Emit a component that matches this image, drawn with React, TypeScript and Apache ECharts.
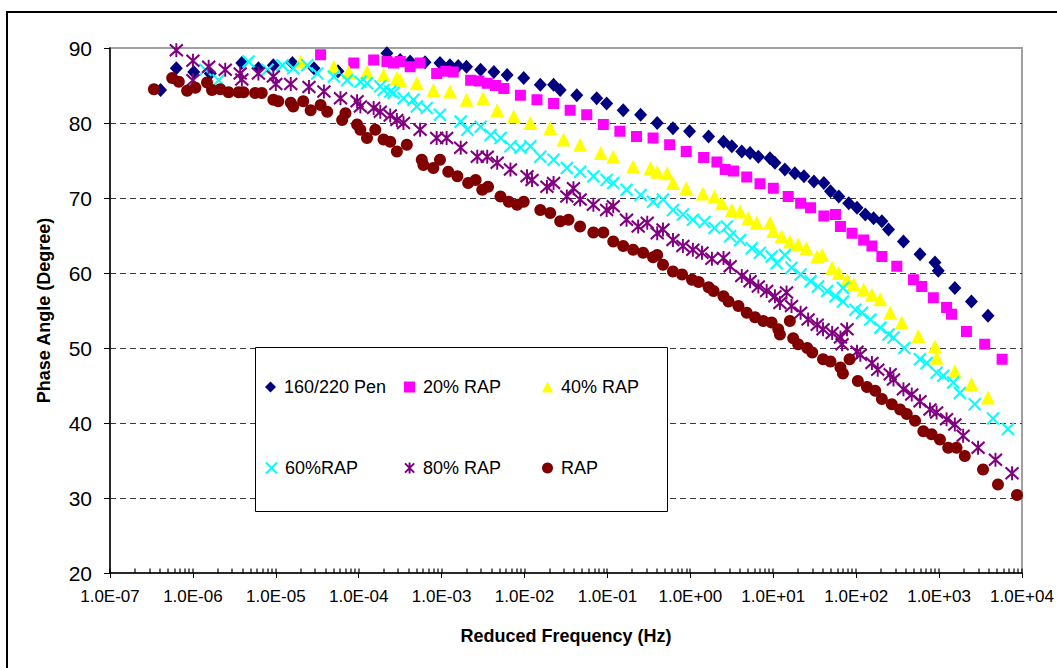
import React, { useEffect, useRef } from "react";
import * as echarts from "echarts";

// Each pair is [log10 of reduced frequency (Hz), phase angle (degree)].
const pen160: number[][] = [
  [-6.39, 84.4], [-6.2, 87.3], [-5.99, 86.8], [-5.79, 86.6], [-5.41, 88.0], [-5.21, 87.3],
  [-5.03, 87.7], [-4.8, 88.0], [-4.54, 87.3], [-4.25, 86.9], [-3.66, 89.3], [-3.5, 88.4],
  [-3.38, 88.2], [-3.2, 88.1], [-3.02, 88.0], [-2.9, 87.7], [-2.8, 87.6], [-2.7, 87.5],
  [-2.53, 87.1], [-2.37, 86.8], [-2.21, 86.4], [-2.01, 86.0], [-1.81, 85.1], [-1.65, 85.1],
  [-1.57, 84.4], [-1.37, 83.7], [-1.13, 83.3], [-1.01, 82.6], [-0.81, 81.7], [-0.6, 81.1],
  [-0.4, 80.0], [-0.21, 79.3], [-0.01, 78.9], [0.22, 78.2], [0.4, 77.5], [0.5, 76.9],
  [0.62, 76.2], [0.72, 76.0], [0.82, 75.5], [0.96, 75.3], [1.02, 74.7], [1.14, 73.8],
  [1.26, 73.3], [1.37, 72.9], [1.49, 72.2], [1.61, 72.0], [1.69, 70.9], [1.79, 70.2],
  [1.91, 69.3], [2.01, 68.7], [2.11, 67.8], [2.21, 67.3], [2.31, 66.9], [2.39, 65.8],
  [2.57, 64.2], [2.77, 62.5], [2.95, 61.4], [2.99, 60.3], [3.19, 58.0], [3.39, 56.2],
  [3.59, 54.3],
];

const rap20: number[][] = [
  [-4.46, 89.1], [-4.06, 88.0], [-3.82, 88.4], [-3.66, 88.2], [-3.58, 88.0], [-3.5, 88.2],
  [-3.38, 87.5], [-3.26, 88.0], [-3.06, 86.6], [-2.95, 86.9], [-2.86, 86.8], [-2.65, 85.7],
  [-2.55, 85.6], [-2.45, 85.3], [-2.35, 85.0], [-2.25, 84.6], [-2.05, 83.7], [-1.85, 83.1],
  [-1.65, 82.6], [-1.45, 81.7], [-1.25, 81.1], [-1.05, 79.8], [-0.85, 78.9], [-0.65, 78.2],
  [-0.45, 78.0], [-0.25, 77.1], [-0.05, 76.2], [0.16, 75.4], [0.32, 74.8], [0.42, 73.8],
  [0.52, 73.6], [0.68, 72.8], [0.84, 71.9], [1.0, 71.3], [1.18, 70.2], [1.33, 69.3],
  [1.45, 68.7], [1.61, 67.6], [1.75, 67.8], [1.81, 66.2], [1.95, 65.3], [2.09, 64.4],
  [2.19, 63.6], [2.31, 62.2], [2.49, 60.9], [2.69, 59.1], [2.79, 58.2], [2.93, 56.7],
  [3.09, 55.4], [3.15, 54.5], [3.33, 52.2], [3.55, 50.5], [3.76, 48.5],
];

const rap40: number[][] = [
  [-4.7, 88.2], [-4.3, 87.5], [-4.12, 86.8], [-3.9, 86.8], [-3.7, 86.4], [-3.54, 86.0],
  [-3.5, 85.7], [-3.3, 85.3], [-3.1, 84.4], [-2.9, 84.2], [-2.7, 83.1], [-2.5, 83.3],
  [-2.33, 81.7], [-2.13, 80.9], [-1.93, 80.0], [-1.69, 79.3], [-1.53, 77.8], [-1.33, 77.1],
  [-1.08, 76.0], [-0.93, 75.5], [-0.69, 74.2], [-0.48, 74.0], [-0.4, 73.5], [-0.28, 73.3],
  [-0.21, 72.0], [-0.05, 71.3], [0.15, 70.6], [0.29, 70.2], [0.38, 69.3], [0.5, 68.4],
  [0.6, 68.2], [0.7, 67.3], [0.8, 66.7], [0.96, 66.7], [1.0, 65.6], [1.1, 64.9],
  [1.2, 64.2], [1.3, 63.8], [1.4, 63.3], [1.53, 62.2], [1.59, 62.4], [1.71, 60.7],
  [1.79, 60.0], [1.89, 59.1], [1.97, 58.5], [2.09, 57.8], [2.19, 57.1], [2.29, 56.5],
  [2.41, 54.7], [2.55, 53.4], [2.75, 51.6], [2.95, 50.2], [2.97, 48.7], [3.19, 46.9],
  [3.39, 45.2], [3.59, 43.4],
];

const rap60: number[][] = [
  [-5.85, 87.1], [-5.69, 85.7], [-5.33, 88.2], [-5.1, 87.1], [-4.92, 87.7], [-4.79, 87.3],
  [-4.62, 87.7], [-4.5, 86.6], [-4.3, 86.2], [-4.14, 85.7], [-3.98, 85.5], [-3.9, 85.3],
  [-3.74, 84.9], [-3.7, 84.4], [-3.62, 84.2], [-3.58, 84.0], [-3.46, 83.3], [-3.34, 83.1],
  [-3.3, 82.2], [-3.18, 82.0], [-3.02, 81.1], [-2.77, 80.2], [-2.69, 79.1], [-2.53, 79.5],
  [-2.41, 78.4], [-2.29, 78.0], [-2.17, 76.9], [-2.05, 76.7], [-1.93, 76.9], [-1.81, 75.5],
  [-1.65, 75.1], [-1.49, 74.0], [-1.33, 73.5], [-1.17, 72.9], [-1.01, 72.4], [-0.93, 72.0],
  [-0.77, 71.1], [-0.6, 70.4], [-0.45, 69.5], [-0.33, 69.8], [-0.21, 68.4], [-0.09, 67.8],
  [0.03, 67.1], [0.17, 66.8], [0.29, 66.0], [0.44, 66.2], [0.48, 64.9], [0.6, 64.4],
  [0.74, 63.3], [0.84, 62.7], [0.98, 62.2], [1.04, 61.3], [1.14, 62.4], [1.22, 60.7],
  [1.33, 59.8], [1.45, 58.9], [1.54, 58.2], [1.65, 57.6], [1.75, 56.9], [1.84, 58.0],
  [1.84, 56.2], [1.99, 55.1], [2.07, 54.7], [2.17, 53.8], [2.29, 52.7], [2.39, 51.8],
  [2.45, 51.4], [2.58, 50.0], [2.77, 48.5], [2.85, 48.0], [2.97, 46.7], [3.05, 46.3],
  [3.17, 45.4], [3.25, 44.0], [3.43, 42.5], [3.65, 40.6], [3.83, 39.2],
];

const rap80: number[][] = [
  [-6.2, 89.7], [-6.0, 88.3], [-6.0, 85.7], [-5.81, 87.5], [-5.61, 87.1], [-5.43, 86.6],
  [-5.41, 85.8], [-5.21, 86.6], [-5.03, 86.2], [-5.0, 85.2], [-4.82, 85.2], [-4.6, 84.8],
  [-4.42, 84.2], [-4.22, 83.3], [-4.02, 82.9], [-3.98, 82.2], [-3.82, 82.0], [-3.74, 81.5],
  [-3.62, 81.0], [-3.54, 80.4], [-3.46, 80.0], [-3.26, 79.1], [-3.06, 78.0], [-2.94, 78.0],
  [-2.77, 76.7], [-2.57, 75.5], [-2.45, 75.5], [-2.33, 74.7], [-2.17, 73.8], [-1.97, 72.9],
  [-1.91, 72.4], [-1.73, 71.5], [-1.65, 72.0], [-1.49, 70.2], [-1.41, 71.3], [-1.33, 69.8],
  [-1.17, 69.1], [-1.01, 68.4], [-0.93, 68.9], [-0.77, 67.1], [-0.63, 66.2], [-0.52, 66.7],
  [-0.4, 65.3], [-0.33, 65.8], [-0.21, 64.4], [-0.09, 63.6], [0.03, 63.1], [0.14, 62.7],
  [0.26, 61.9], [0.4, 62.0], [0.48, 60.9], [0.62, 59.6], [0.72, 58.9], [0.82, 58.2],
  [0.92, 57.6], [1.02, 56.9], [1.08, 56.0], [1.16, 57.4], [1.22, 55.6], [1.33, 54.7],
  [1.42, 53.8], [1.53, 53.1], [1.6, 52.5], [1.71, 52.0], [1.81, 51.4], [1.83, 50.5],
  [1.89, 52.5], [2.01, 49.5], [2.05, 49.1], [2.19, 48.0], [2.26, 47.1], [2.41, 46.5],
  [2.45, 45.8], [2.57, 44.5], [2.67, 43.8], [2.77, 42.9], [2.89, 41.8], [2.97, 41.4],
  [3.09, 40.5], [3.19, 39.8], [3.29, 38.3], [3.47, 36.7], [3.68, 35.1], [3.88, 33.3],
];

const rap100: number[][] = [
  [-6.47, 84.5], [-6.25, 86.0], [-6.17, 85.5], [-6.07, 84.3], [-5.97, 84.7], [-5.83, 85.4],
  [-5.77, 84.4], [-5.67, 84.5], [-5.57, 84.1], [-5.45, 84.1], [-5.39, 84.1], [-5.25, 84.0],
  [-5.17, 84.0], [-5.03, 83.1], [-4.97, 82.9], [-4.82, 82.7], [-4.79, 82.2], [-4.67, 82.9],
  [-4.58, 81.7], [-4.46, 82.4], [-4.38, 81.5], [-4.2, 80.4], [-4.16, 81.3], [-4.02, 79.8],
  [-3.98, 79.1], [-3.9, 78.0], [-3.8, 79.1], [-3.7, 77.8], [-3.62, 77.5], [-3.54, 76.2],
  [-3.42, 77.1], [-3.24, 75.1], [-3.22, 74.4], [-3.1, 74.0], [-3.02, 75.1], [-2.92, 73.5],
  [-2.81, 72.9], [-2.68, 72.0], [-2.59, 72.4], [-2.51, 71.1], [-2.44, 71.5], [-2.29, 70.2],
  [-2.19, 69.5], [-2.09, 69.1], [-2.01, 69.5], [-1.81, 68.4], [-1.69, 68.0], [-1.57, 66.9],
  [-1.47, 67.1], [-1.33, 66.2], [-1.17, 65.4], [-1.05, 65.4], [-0.93, 64.2], [-0.81, 63.6],
  [-0.69, 63.1], [-0.57, 62.7], [-0.45, 62.1], [-0.4, 62.4], [-0.33, 61.1], [-0.21, 60.2],
  [-0.1, 59.8], [0.02, 59.1], [0.1, 58.8], [0.22, 58.1], [0.28, 57.6], [0.4, 56.9],
  [0.46, 56.2], [0.58, 55.6], [0.68, 54.7], [0.78, 54.1], [0.88, 53.6], [0.98, 53.4],
  [1.06, 52.5], [1.08, 51.8], [1.2, 53.6], [1.24, 51.3], [1.3, 50.5], [1.41, 50.0],
  [1.47, 49.4], [1.6, 48.5], [1.69, 48.2], [1.81, 47.4], [1.84, 46.6], [1.92, 48.5],
  [2.02, 45.6], [2.13, 44.8], [2.23, 44.3], [2.31, 43.2], [2.43, 42.5], [2.53, 41.8],
  [2.61, 41.2], [2.71, 40.3], [2.81, 38.9], [2.91, 38.5], [3.01, 37.8], [3.11, 36.7],
  [3.21, 36.7], [3.31, 35.6], [3.53, 33.8], [3.71, 31.8], [3.94, 30.4],
];

const seriesNames = ["160/220 Pen", "20% RAP", "40% RAP", "60%RAP", "80% RAP", "RAP"];
const seriesColors = ["#000080", "#FF00FF", "#FFFF00", "#00FFFF", "#800080", "#800000"];

const X_MIN = 1e-7;
const X_MAX = 1e4;
const Y_MIN = 20;
const Y_MAX = 90;

const FONT = "Arial, 'Liberation Sans', Helvetica, sans-serif";

const CROSS = "path://M0,0L10,10M10,0L0,10";
const STAR = "path://M0,1L10,11M10,1L0,11M5,0L5,12";

const toPoints = (arr: number[][]) => arr.map(([lf, deg]) => [Math.pow(10, lf), deg]);

// Minor decade ticks (2..9 x 10^n) plus the decade marks, standing on the frequency axis
const minorTickValues: number[] = [];
for (let d = -7; d <= 4; d++) {
  minorTickValues.push(Math.pow(10, d));
  if (d < 4) for (let k = 2; k <= 9; k++) minorTickValues.push(k * Math.pow(10, d));
}

const fmtSci = (v: number) => {
  const e = Math.round(Math.log10(v));
  const s = e < 0 ? "-" : "+";
  return `1.0E${s}${String(Math.abs(e)).padStart(2, "0")}`;
};

const axisFont = { fontFamily: FONT, color: "#000" };

export default function App() {
  const ref = useRef<HTMLDivElement>(null);

  useEffect(() => {
    if (!ref.current) return;
    const chart = echarts.init(ref.current, undefined, { renderer: "svg" });

    const datasets = [pen160, rap20, rap40, rap60, rap80, rap100];
    const symbols: any[] = ["diamond", "rect", "triangle", CROSS, STAR, "circle"];
    const sizes: any[] = [[13, 14], 11, 14, 12, [13, 14], 12];

    const series: any[] = datasets.map((d, i) => {
      const stroked = i === 3 || i === 4;
      return {
        name: seriesNames[i],
        type: "scatter",
        data: toPoints(d),
        symbol: symbols[i],
        symbolSize: sizes[i],
        itemStyle: stroked
          ? { color: "transparent", borderColor: seriesColors[i], borderWidth: 2, opacity: 1 }
          : { color: seriesColors[i], opacity: 1 },
        emphasis: { disabled: true },
        z: 2 + i * 0.01,
      };
    });

    series.push({
      type: "custom",
      name: "axis-minor-ticks",
      silent: true,
      clip: false,
      z: 20,
      data: minorTickValues.map((v) => [v, Y_MIN]),
      renderItem: (_p: any, api: any) => {
        const pt = api.coord([api.value(0), api.value(1)]);
        return {
          type: "rect",
          shape: { x: Math.round(pt[0]) - 0.6, y: pt[1] - 4.5, width: 1.2, height: 4.5 },
          style: { fill: "#000" },
        };
      },
    });

    // Legend laid out as a 3 x 2 table of single-item legends
    const legendCols = [265, 404, 542];
    const legendRows = [378, 459];
    const legendLegends = seriesNames.map((name, i) => ({
      data: [name],
      left: legendCols[i % 3],
      top: legendRows[Math.floor(i / 3)],
      padding: 0,
      itemWidth: 11,
      itemHeight: 11,
      itemGap: 0,
      selectedMode: false,
      z: 6,
      textStyle: { ...axisFont, fontSize: 18, padding: [0, 0, 0, 3] },
    }));

    chart.setOption({
      animation: false,
      backgroundColor: "#fff",
      grid: {
        left: 110,
        right: 35,
        top: 48,
        bottom: 95,
        show: true,
        borderColor: "#a0a0a0",
        borderWidth: 2,
        backgroundColor: "transparent",
      },
      legend: legendLegends,
      xAxis: {
        type: "log",
        logBase: 10,
        min: X_MIN,
        max: X_MAX,
        interval: 1,
        name: "Reduced Frequency (Hz)",
        nameLocation: "middle",
        nameGap: 54,
        nameTextStyle: { ...axisFont, fontSize: 18, fontWeight: "bold" },
        axisLine: { show: true, onZero: false, lineStyle: { color: "#000", width: 1.5 } },
        axisTick: { show: true, inside: false, length: 5, lineStyle: { color: "#000" } },
        axisLabel: { ...axisFont, fontSize: 17, margin: 15, formatter: fmtSci },
        splitLine: { show: false },
      },
      yAxis: {
        type: "value",
        min: Y_MIN,
        max: Y_MAX,
        interval: 10,
        name: "Phase Angle (Degree)",
        nameLocation: "middle",
        nameGap: 57,
        nameTextStyle: { ...axisFont, fontSize: 18, fontWeight: "bold" },
        axisLine: { show: true, lineStyle: { color: "#000", width: 1.5 } },
        axisTick: { show: true, inside: false, length: 6, lineStyle: { color: "#000" } },
        axisLabel: { ...axisFont, fontSize: 21, margin: 18 },
        splitLine: {
          show: true,
          showMinLine: false,
          showMaxLine: false,
          lineStyle: { color: "#3a3a3a", type: [6, 4], width: 1 },
        },
      },
      graphic: [
        {
          type: "rect",
          shape: { x: 7, y: 12, width: 1200, height: 800 },
          style: { fill: "none", stroke: "#000", lineWidth: 2 },
          silent: true,
          z: 10,
        },
        {
          type: "rect",
          shape: { x: 255.5, y: 347.5, width: 412, height: 164 },
          style: { fill: "#fff", stroke: "#000", lineWidth: 1 },
          silent: true,
          z: 5,
        },
      ],
      series,
    });

    return () => chart.dispose();
  }, []);

  return (
    <div
      ref={ref}
      style={{ position: "fixed", left: 0, top: 0, width: 1057, height: 668, background: "#fff" }}
    />
  );
}
